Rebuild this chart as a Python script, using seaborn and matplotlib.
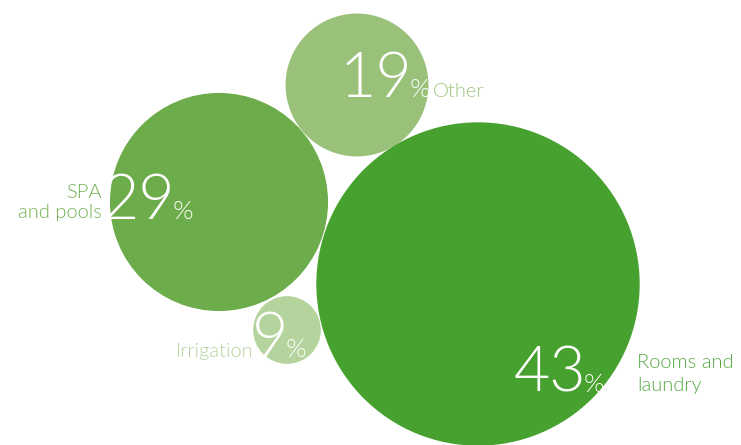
import matplotlib
matplotlib.use("Agg")
import matplotlib.pyplot as plt
import seaborn as sns
import pandas as pd

# Water consumption shares by use
labels = ["Other", "SPA\nand pools", "Irrigation", "Rooms and\nlaundry"]
shares = [19, 29, 9, 43]
colors = ["#99c17a", "#6dac4b", "#b5d49d", "#46a12e"]
label_colors = ["#9cc47e", "#74b153", "#b3d29c", "#5aaa45"]

# bubble centres (canvas units, y grows downward)
cx = [357, 219, 287, 478]
cy = [85, 202, 330, 284]
PX_PER_PCT = 3.76  # bubble radius per percentage point

W, H, DPI = 741, 445, 100
sns.set_theme(style="white")
plt.rcParams["font.family"] = ["Lato", "DejaVu Sans"]

fig = plt.figure(figsize=(W / DPI, H / DPI), dpi=DPI)
ax = fig.add_axes([0, 0, 1, 1])
ax.set_xlim(0, W)
ax.set_ylim(H, 0)
ax.axis("off")

df = pd.DataFrame({"x": cx, "y": cy, "label": labels, "share": shares})
pt_per_px = 72 / DPI
df["s"] = [(2 * v * PX_PER_PCT * pt_per_px) ** 2 for v in shares]

sns.scatterplot(data=df, x="x", y="y", hue="label", palette=colors,
                s=df["s"].tolist(), linewidth=0, legend=False, ax=ax, alpha=1)

num_kw = dict(color="white", fontsize=45, fontweight=300, va="baseline", ha="right")
pct_kw = dict(color="white", fontsize=19, fontweight=300, va="baseline", ha="left")
lab_kw = dict(fontsize=14.5, fontweight=300, va="baseline")

# (number end x, baseline y), label anchor (x, y, ha), label line spacing
num_pos = [(412, 97), (175, 219), (288, 357), (586, 392)]
lab_pos = [(433, 97, "left"), (102, 218, "right"), (254, 357, "right"), (637, 391, "left")]
lab_spacing = [1.0, 1.18, 1.0, 1.4]

for v, (nx, ny), (lx, ly, ha), ls, lab, lc in zip(shares, num_pos, lab_pos, lab_spacing,
                                                labels, label_colors):
    ax.text(nx, ny, f"{v}", **num_kw)
    ax.text(nx - 2, ny, "%", **pct_kw)
    ax.text(lx, ly, lab, color=lc, ha=ha, multialignment=ha, linespacing=ls, **lab_kw)

fig.savefig("out.png", dpi=DPI)
